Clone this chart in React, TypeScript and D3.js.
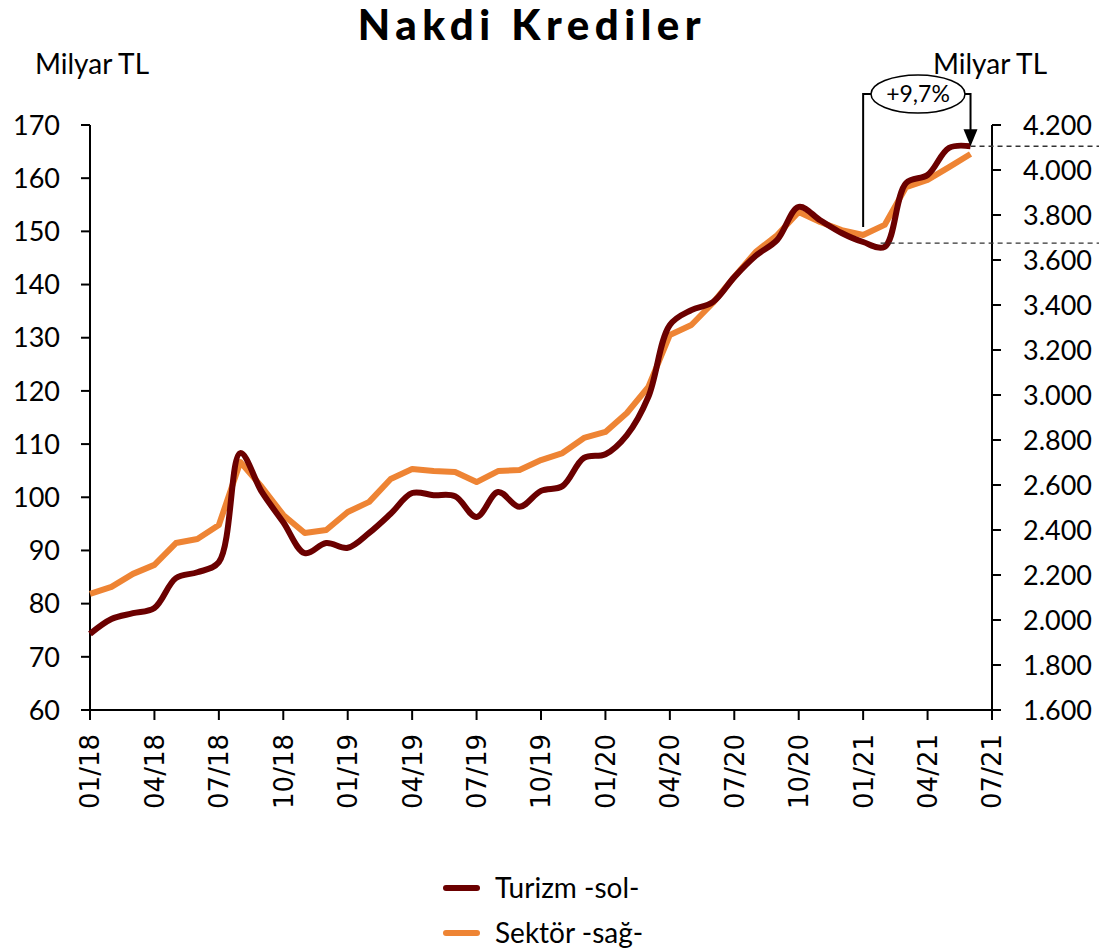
import { useEffect, useRef } from "react";
import * as d3 from "d3";

// monthly, 01/18 .. 06/21
const turizm = [
  74.3, 77.1, 78.2, 79.2, 84.8, 85.9, 87.8, 108.3, 101.0, 95.3, 89.5, 91.4,
  90.5, 93.3, 96.9, 100.8, 100.4, 100.2, 96.3, 101.0, 98.2, 101.2, 102.1, 107.4,
  108.1, 111.7, 118.9, 132.4, 135.2, 136.7, 141.4, 145.4, 148.4, 154.6, 152.1, 149.7,
  148.0, 147.1, 159.1, 160.6, 165.7, 166.0,
];
const sektor = [
  2116, 2147, 2205, 2245, 2342, 2360, 2422, 2702, 2591, 2467, 2387, 2400,
  2480, 2525, 2627, 2671, 2662, 2658, 2613, 2662, 2667, 2711, 2742, 2809,
  2836, 2920, 3036, 3267, 3311, 3409, 3525, 3636, 3711, 3813, 3769, 3733,
  3711, 3756, 3924, 3956, 4013, 4071,
];
const xTickLabels = [
  "01/18", "04/18", "07/18", "10/18", "01/19", "04/19", "07/19",
  "10/19", "01/20", "04/20", "07/20", "10/20", "01/21", "04/21", "07/21",
];
const leftTicks = [60, 70, 80, 90, 100, 110, 120, 130, 140, 150, 160, 170];
const rightTicks = [1600, 1800, 2000, 2200, 2400, 2600, 2800, 3000, 3200, 3400, 3600, 3800, 4000, 4200];
const legendItems = ["Turizm -sol-", "Sektör -sağ-"];
const annotationText = "+9,7%";

const W = 1099;
const H = 951;
const FONT = "Lato, 'Open Sans', sans-serif";

export default function App() {
  const ref = useRef<SVGSVGElement | null>(null);

  useEffect(() => {
    const svg = d3.select(ref.current);
    svg.selectAll("*").remove();

    const left = 90;
    const right = 992;
    const top = 125;
    const bottom = 710;

    const x = d3.scaleLinear().domain([0, 42]).range([left, right]);
    const yL = d3.scaleLinear().domain([60, 170]).range([bottom, top]);
    const yR = d3.scaleLinear().domain([1600, 4200]).range([bottom, top]);

    // title and units
    svg.append("text").attr("x", 532).attr("y", 40).attr("text-anchor", "middle")
      .attr("font-family", FONT).attr("font-weight", 900).attr("font-size", 42)
      .attr("letter-spacing", 5.5).attr("fill", "#000").text("Nakdi Krediler");
    svg.append("text").attr("x", 35).attr("y", 74).attr("font-family", FONT)
      .attr("font-size", 28).attr("fill", "#000").text("Milyar TL");
    svg.append("text").attr("x", 933).attr("y", 74).attr("font-family", FONT)
      .attr("font-size", 28).attr("fill", "#000").text("Milyar TL");

    const axisColor = "#000";

    // left axis
    svg.append("line").attr("x1", left).attr("x2", left).attr("y1", top).attr("y2", bottom)
      .attr("stroke", axisColor).attr("stroke-width", 2);
    svg.selectAll("line.ltick").data(leftTicks).join("line").attr("class", "ltick")
      .attr("x1", left - 9).attr("x2", left).attr("y1", (d) => yL(d)).attr("y2", (d) => yL(d))
      .attr("stroke", axisColor).attr("stroke-width", 2);
    svg.selectAll("text.llabel").data(leftTicks).join("text").attr("class", "llabel")
      .attr("x", 60).attr("y", (d) => yL(d)).attr("dy", "0.36em").attr("text-anchor", "end")
      .attr("font-family", FONT).attr("font-size", 27).attr("fill", "#000").text((d) => d);

    // right axis
    svg.append("line").attr("x1", right).attr("x2", right).attr("y1", top).attr("y2", bottom)
      .attr("stroke", axisColor).attr("stroke-width", 2);
    svg.selectAll("line.rtick").data(rightTicks).join("line").attr("class", "rtick")
      .attr("x1", right).attr("x2", right + 9).attr("y1", (d) => yR(d)).attr("y2", (d) => yR(d))
      .attr("stroke", axisColor).attr("stroke-width", 2);
    const fmtR = (d: number) => d3.format(",")(d).replace(",", ".");
    svg.selectAll("text.rlabel").data(rightTicks).join("text").attr("class", "rlabel")
      .attr("x", 1023).attr("y", (d) => yR(d)).attr("dy", "0.36em").attr("text-anchor", "start")
      .attr("font-family", FONT).attr("font-size", 27).attr("fill", "#000").text((d) => fmtR(d));

    // x axis
    svg.append("line").attr("x1", left).attr("x2", right).attr("y1", bottom).attr("y2", bottom)
      .attr("stroke", axisColor).attr("stroke-width", 2);
    svg.selectAll("line.xtick").data(xTickLabels).join("line").attr("class", "xtick")
      .attr("x1", (_, i) => x(i * 3)).attr("x2", (_, i) => x(i * 3))
      .attr("y1", bottom).attr("y2", bottom + 10)
      .attr("stroke", axisColor).attr("stroke-width", 2);
    svg.selectAll("text.xlabel").data(xTickLabels).join("text").attr("class", "xlabel")
      .attr("transform", (_, i) => `translate(${x(i * 3)},734) rotate(-90)`)
      .attr("dy", "0.36em").attr("text-anchor", "end")
      .attr("font-family", "'DejaVu Sans', sans-serif").attr("font-size", 26)
      .attr("fill", "#000").text((d) => d);

    // series
    const turizmLine = d3.line<number>().x((_, i) => x(i)).y((d) => yL(d))
      .curve(d3.curveCatmullRom.alpha(0.5));
    const sektorLine = d3.line<number>().x((_, i) => x(i)).y((d) => yR(d));

    svg.append("path").attr("d", sektorLine(sektor) ?? "").attr("fill", "none")
      .attr("stroke", "#EE8434").attr("stroke-width", 6).attr("stroke-linejoin", "round");
    svg.append("path").attr("d", turizmLine(turizm) ?? "").attr("fill", "none")
      .attr("stroke", "#6B0000").attr("stroke-width", 6).attr("stroke-linejoin", "round");

    // annotation
    const last = turizm.length - 1;
    const xs = x(36);
    const xe = x(last);
    const yTop = 94;
    const yEnd = yL(turizm[last]);
    svg.append("line").attr("x1", xe).attr("x2", W).attr("y1", yEnd).attr("y2", yEnd)
      .attr("stroke", "#333").attr("stroke-width", 1.3).attr("stroke-dasharray", "5,4");
    svg.append("line").attr("x1", x(37) - 4).attr("x2", W).attr("y1", yL(147.8)).attr("y2", yL(147.8))
      .attr("stroke", "#333").attr("stroke-width", 1.3).attr("stroke-dasharray", "5,4");
    svg.append("path")
      .attr("d", `M${xs},${yR(sektor[36]) - 8} V${yTop} H${xe} V${yEnd - 16}`)
      .attr("fill", "none").attr("stroke", "#000").attr("stroke-width", 2);
    svg.append("path")
      .attr("d", `M${xe - 7},${yEnd - 17} L${xe + 7},${yEnd - 17} L${xe},${yEnd} Z`)
      .attr("fill", "#000");
    svg.append("ellipse").attr("cx", 918).attr("cy", yTop).attr("rx", 47).attr("ry", 19)
      .attr("fill", "#fff").attr("stroke", "#000").attr("stroke-width", 1.5);
    svg.append("text").attr("x", 918).attr("y", yTop).attr("dy", "0.36em").attr("text-anchor", "middle")
      .attr("font-family", FONT).attr("font-size", 23).attr("fill", "#000").text(annotationText);

    // legend
    const colors = ["#6B0000", "#EE8434"];
    const legendY = [888, 933];
    legendItems.forEach((name, i) => {
      svg.append("line").attr("x1", 446).attr("x2", 477).attr("y1", legendY[i]).attr("y2", legendY[i])
        .attr("stroke", colors[i]).attr("stroke-width", 6).attr("stroke-linecap", "round");
      svg.append("text").attr("x", 495).attr("y", legendY[i]).attr("dy", "0.36em")
        .attr("font-family", FONT).attr("font-size", 28).attr("fill", "#000").text(name);
    });
  }, []);

  return (
    <svg
      ref={ref}
      width={W}
      height={H}
      viewBox={`0 0 ${W} ${H}`}
      style={{ position: "absolute", left: 0, top: 0, background: "#fff" }}
    />
  );
}
